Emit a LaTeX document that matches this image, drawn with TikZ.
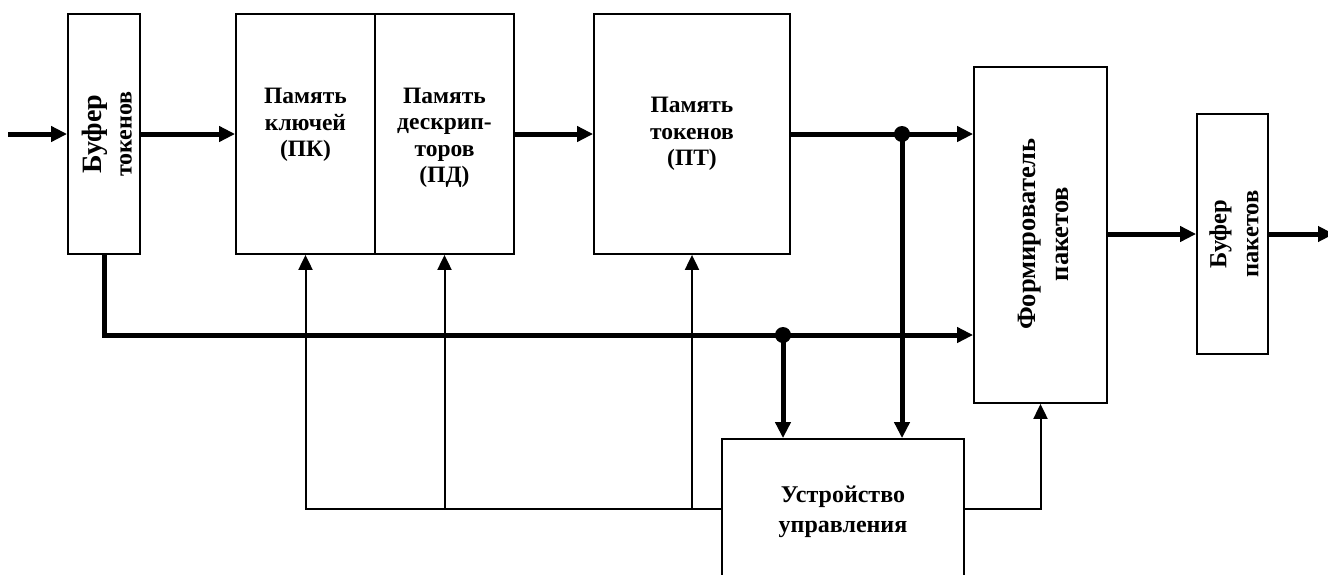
\documentclass[tikz,border=0pt]{standalone}
\usepackage{fontspec}
\setmainfont{Liberation Serif}
\usetikzlibrary{arrows.meta}
\begin{document}
\begin{tikzpicture}[x=1pt,y=-1pt,
  box/.style={draw, line width=1.8pt, inner sep=0pt},
  lbl/.style={inner sep=0pt, align=center, font=\bfseries\fontsize{23.5}{26.5}\selectfont},
  bigarrow/.style={line width=5pt, -{Triangle[length=16pt,width=15pt]}},
  smallarrow/.style={line width=2pt, -{Triangle[length=15pt,width=14pt]}}]
\useasboundingbox (0,0) rectangle (1328,574);
\clip (0,0) rectangle (1328,574);
% boxes
\node[box, minimum width=72pt, minimum height=240pt] (bt) at (104,134) {};
\node[lbl, rotate=90, font=\bfseries\fontsize{28}{30}\selectfont] (bttext) at (107,134) {Буфер\\{\fontsize{24}{30}\selectfont токенов}};
\node[box, minimum width=139pt, minimum height=240pt] (pk) at (305.5,134) {};
\node[lbl] (pktext) at (305.5,125) {Память\\ключей\\(ПК)};
\node[box, minimum width=139pt, minimum height=240pt] (pd) at (444.5,134) {};
\node[lbl] (pdtext) at (444.5,138) {Память\\дескрип-\\торов\\(ПД)};
\node[box, minimum width=196pt, minimum height=240pt] (pt) at (692,134) {};
\node[lbl] (pttext) at (692,134) {Память\\токенов\\(ПТ)};
\node[box, minimum width=133pt, minimum height=336pt] (fp) at (1040.5,235) {};
\node[lbl, rotate=90, font=\bfseries\fontsize{26.5}{33}\selectfont] (fptext) at (1043,234) {Формирователь\\пакетов};
\node[box, minimum width=71pt, minimum height=240pt] (bp) at (1232.5,234) {};
\node[lbl, rotate=90, font=\bfseries\fontsize{24.5}{32}\selectfont] (bptext) at (1234,234) {Буфер\\пакетов};
\node[box, minimum width=242pt, minimum height=140pt] (cu) at (843,509) {};
\node[lbl, font=\bfseries\fontsize{24}{30}\selectfont] (cutext) at (843,512) {Устройство\\управления};
% coordinates
\coordinate (in) at (8,134);
\coordinate (out) at (1334,234);
\coordinate (j1) at (902,134);
\coordinate (j2) at (783,335);
% main data path
\draw[bigarrow] (in) -- (bt.west);
\draw[bigarrow] (bt.east) -- (pk.west);
\draw[bigarrow] (pd.east) -- (pt.west);
\draw[bigarrow] (pt.east) -- (pt.east -| fp.west);
\draw[bigarrow] (j1) -- (j1 |- cu.north);
\draw[bigarrow] (bt.south) |- (j2 -| fp.west);
\draw[bigarrow] (j2) -- (j2 |- cu.north);
\draw[bigarrow] (fp.east |- bp.west) -- (bp.west);
\draw[bigarrow] (bp.east) -- (out);
\fill (j1) circle (8pt);
\fill (j2) circle (8pt);
% control lines
\draw[smallarrow] (cu.west) -| (pk.south);
\draw[smallarrow] (pd.south |- cu.west) -- (pd.south);
\draw[smallarrow] (pt.south |- cu.west) -- (pt.south);
\draw[smallarrow] (cu.east) -| (fp.south);
\end{tikzpicture}
\end{document}
